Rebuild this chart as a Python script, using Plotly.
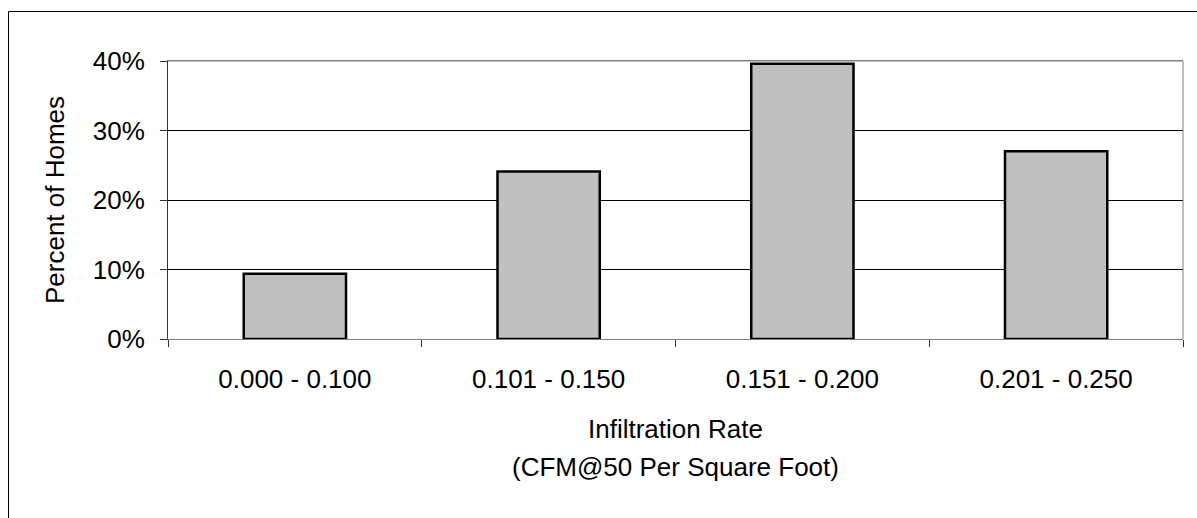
import plotly.graph_objects as go

# Infiltration rate bins (CFM@50 per square foot) and share of homes in each
categories = ["0.000 - 0.100", "0.101 - 0.150", "0.151 - 0.200", "0.201 - 0.250"]
percent_homes = [9.4, 24.1, 39.6, 27.0]
y_ticks = [0, 10, 20, 30, 40]

FONT = "Liberation Sans, Arial, sans-serif"

W, H = 1197, 518
M_L, M_R, M_T, M_B = 168, 14, 61, 179
PLOT_W = W - M_L - M_R
PLOT_H = H - M_T - M_B

fig = go.Figure()
fig.add_trace(go.Bar(
    x=categories,
    y=percent_homes,
    marker=dict(color="#C0C0C0", line=dict(color="#000000", width=2.5)),
    hoverinfo="x+y",
))

fig.update_layout(
    width=W,
    height=H,
    margin=dict(l=M_L, r=M_R, t=M_T, b=M_B),
    paper_bgcolor="white",
    plot_bgcolor="white",
    showlegend=False,
    bargap=0.597,
    font=dict(family=FONT, size=26, color="#000000"),
)

fig.update_xaxes(
    type="category",
    tickson="boundaries",
    ticks="outside",
    ticklen=7,
    tickcolor="#333333",
    tickwidth=1,
    showgrid=False,
    showline=True,
    linecolor="#808080",
    linewidth=1,
    mirror=True,
    ticklabelstandoff=17,
    tickfont=dict(family=FONT, size=26, color="#000000"),
)

fig.update_yaxes(
    range=[0, 40],
    tickvals=y_ticks,
    ticktext=[f"{v}%" for v in y_ticks],
    ticks="outside",
    ticklen=7,
    tickcolor="#333333",
    tickwidth=1,
    showgrid=True,
    gridcolor="#000000",
    gridwidth=1,
    zeroline=False,
    showline=True,
    linecolor="#333333",
    linewidth=1,
    ticklabelstandoff=10,
    tickfont=dict(family=FONT, size=26, color="#000000"),
    title=dict(text="Percent of Homes", font=dict(family=FONT, size=26), standoff=20),
)

# plot-area edges in grey, plus the outer chart frame
fig.add_shape(type="line", xref="x domain", yref="y domain",
              x0=1, x1=1, y0=0, y1=1, line=dict(color="#808080", width=1))
fig.add_shape(type="line", xref="x domain", yref="y domain",
              x0=0, x1=1, y0=1, y1=1, line=dict(color="#808080", width=1))
fig.add_shape(type="rect", xref="paper", yref="paper",
              x0=(8.5 - M_L) / PLOT_W, x1=(W + 20 - M_L) / PLOT_W,
              y0=-(M_B + 20) / PLOT_H, y1=(H - M_B - 11.5) / PLOT_H,
              line=dict(color="#000000", width=1), fillcolor="rgba(0,0,0,0)",
              layer="below")

# x-axis title on two lines
fig.add_annotation(text="Infiltration Rate", xref="x domain", yref="paper",
                   x=0.5, y=0, yshift=-90, showarrow=False, yanchor="middle",
                   font=dict(family=FONT, size=26))
fig.add_annotation(text="(CFM@50 Per Square Foot)", xref="x domain", yref="paper",
                   x=0.5, y=0, yshift=-128, showarrow=False, yanchor="middle",
                   font=dict(family=FONT, size=26))

fig.write_html("out.html")
